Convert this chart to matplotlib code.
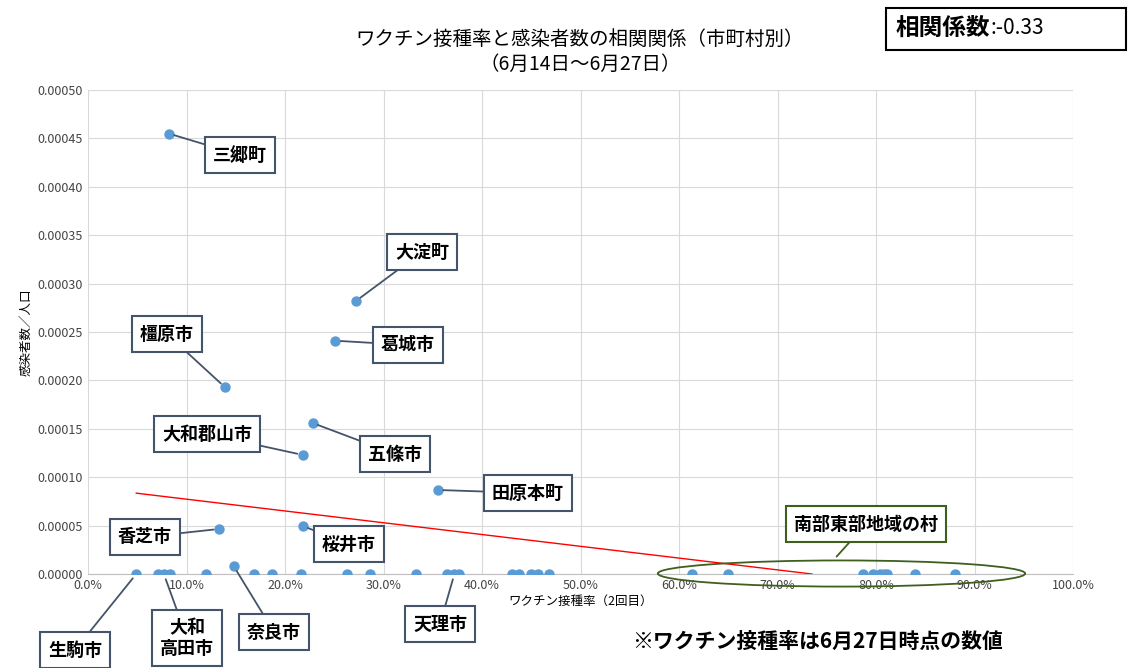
import matplotlib
matplotlib.use("Agg")
import matplotlib.pyplot as plt
from matplotlib.patches import Ellipse
from matplotlib.ticker import FuncFormatter, MultipleLocator

plt.rcParams['font.family'] = 'Noto Sans CJK JP'

# labeled municipalities: (vaccination rate %, infections per population)
names = ["三郷町", "大淀町", "葛城市", "橿原市", "五條市", "大和郡山市", "田原本町", "香芝市", "桜井市", "奈良市"]
rates = [8.2, 27.2, 25.1, 13.9, 22.8, 21.8, 35.5, 13.3, 21.8, 14.8]
cases = [0.000455, 0.000282, 0.000241, 0.000193, 0.000156, 0.000123, 0.0000868, 0.0000465, 0.0000496, 0.000008]
# municipalities with zero infections
zero_rates = [4.9, 7.1, 7.7, 8.3, 12.0, 16.9, 18.7, 21.6, 26.3, 28.6, 33.3, 36.4, 37.2, 37.7,
              43.0, 43.8, 45.0, 45.7, 46.8, 61.3, 65.0, 78.7, 79.7, 80.4, 80.8, 81.1, 84.0, 88.0]
trend_x = [4.9, 73.5]
trend_y = [0.0000835, 0.0]

# label box centres in figure pixels (from top-left)
label_pos = {"三郷町": (240, 155), "大淀町": (422, 252), "葛城市": (408, 345), "橿原市": (167, 334),
             "五條市": (395, 454), "大和郡山市": (207, 434), "田原本町": (528, 493), "香芝市": (145, 537),
             "桜井市": (349, 544), "奈良市": (274, 632)}
zero_labels = [("生駒市", 4.9, (75, 650)), ("大和\n高田市", 7.7, (187, 638)), ("天理市", 37.2, (440, 624))]

W, H = 1141, 668
fig = plt.figure(figsize=(W/100, H/100), dpi=100)
ax = fig.add_axes([88/W, 1-574/H, (1073-88)/W, (574-90)/H])
pc = '#5b9bd5'
ax.scatter(rates, cases, s=42, color=pc, zorder=3)
ax.scatter(zero_rates, [0]*len(zero_rates), s=42, color=pc, zorder=3)
ax.plot(trend_x, trend_y, color='red', lw=1, zorder=2)
ax.set_xlim(0, 100)
ax.set_ylim(0, 0.0005)
ax.xaxis.set_major_locator(MultipleLocator(10))
ax.yaxis.set_major_locator(MultipleLocator(0.00005))
ax.xaxis.set_major_formatter(FuncFormatter(lambda v, p: f"{v:.1f}%"))
ax.yaxis.set_major_formatter(FuncFormatter(lambda v, p: f"{v:.5f}"))
ax.tick_params(labelsize=9, length=0, colors='#444444')
ax.grid(True, color='#d9d9d9', lw=0.8)
ax.set_axisbelow(True)
for s in ['top', 'right', 'left']:
    ax.spines[s].set_visible(False)
ax.spines['bottom'].set_color('#bfbfbf')
ax.set_xlabel("ワクチン接種率（2回目）", fontsize=9, labelpad=2)
ax.set_ylabel("感染者数／人口", fontsize=9)

fig.text(580/W, 1-52/H, "ワクチン接種率と感染者数の相関関係（市町村別）\n（6月14日～6月27日）",
         ha='center', va='center', fontsize=14, linespacing=1.3)

box = dict(boxstyle='square,pad=0.45', fc='white', ec='#44546a', lw=1.5)
arrow = dict(arrowstyle='-', color='#44546a', lw=1.3, shrinkA=0, shrinkB=4)
for n, x, y in zip(names, rates, cases):
    px, py = label_pos[n]
    ax.annotate(n, (x, y), xytext=(px, H-py), textcoords='figure pixels', ha='center', va='center',
                fontsize=13, fontweight='bold', bbox=box, arrowprops=arrow, annotation_clip=False)
for n, x, (px, py) in zero_labels:
    ax.annotate(n, (x, 0), xytext=(px, H-py), textcoords='figure pixels', ha='center', va='center',
                fontsize=13, fontweight='bold', bbox=box, arrowprops=arrow, annotation_clip=False,
                linespacing=1.1)

ell = Ellipse((76.5, 0.0000005), 37.3, 0.000027, fill=False, ec='#3f5f1f', lw=1.3, zorder=4, clip_on=False)
ax.add_patch(ell)
ax.annotate("南部東部地域の村", (76, 0.000018), xytext=(866, H-524), textcoords='figure pixels',
            ha='center', va='center', fontsize=13, fontweight='bold',
            bbox=dict(boxstyle='square,pad=0.45', fc='white', ec='#3f5f1f', lw=1.5),
            arrowprops=dict(arrowstyle='-', color='#3f5f1f', lw=1.3, shrinkA=0, shrinkB=0),
            annotation_clip=False)

fig.text(990/W, 1-28/H, "相関係数", ha='right', va='center', fontsize=17, fontweight='bold')
fig.text(990/W, 1-28/H, ":-0.33", ha='left', va='center', fontsize=15)
fig.patches.append(plt.Rectangle((886/W, 1-50/H), 240/W, 42/H, transform=fig.transFigure,
                                 fill=False, ec='black', lw=1.5))
fig.text(818/W, 1-641/H, "※ワクチン接種率は6月27日時点の数値", ha='center', va='center',
         fontsize=15, fontweight='bold')
fig.savefig("out.png", dpi=100)
